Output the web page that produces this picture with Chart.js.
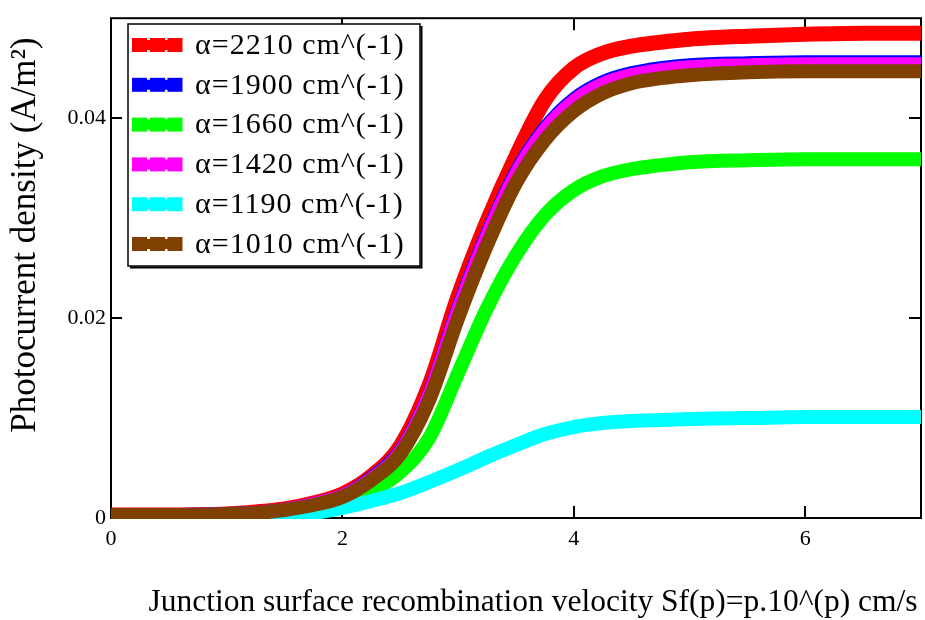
<!DOCTYPE html>
<html>
<head>
<meta charset="utf-8">
<script src="https://cdn.jsdelivr.net/npm/chart.js@4.4.0/dist/chart.umd.min.js"></script>
<style>
  html, body { margin: 0; padding: 0; background: #fff; }
  #wrap { width: 925px; height: 620px; position: relative; }
</style>
</head>
<body>
<div id="wrap"><canvas id="chart"></canvas></div>
<script>
// p values (x axis)
const pValues = [0, 0.5, 1, 1.25, 1.5, 1.75, 2, 2.25, 2.5, 2.75, 3, 3.25, 3.5, 3.75, 4, 4.25, 4.5, 4.75, 5, 5.5, 6, 6.5, 7];

// photocurrent density (A/m²) per absorption coefficient
const j2210 = [0.0003, 0.0003, 0.0004, 0.0006, 0.0009, 0.0015, 0.0024, 0.0042, 0.0072, 0.0133, 0.0222, 0.0297, 0.0362, 0.0418, 0.0450, 0.0465, 0.0472, 0.0476, 0.0479, 0.0482, 0.0484, 0.0485, 0.0485];
const j1900 = [0.0003, 0.0003, 0.0004, 0.0005, 0.0008, 0.0014, 0.0022, 0.0040, 0.0067, 0.0124, 0.0210, 0.0284, 0.0346, 0.0390, 0.0419, 0.0436, 0.0445, 0.0450, 0.0453, 0.0455, 0.0456, 0.0456, 0.0456];
const j1660 = [0.0002, 0.0002, 0.0003, 0.0004, 0.0006, 0.0010, 0.0016, 0.0027, 0.0046, 0.0080, 0.0145, 0.0210, 0.0263, 0.0303, 0.0328, 0.0342, 0.0349, 0.0353, 0.0356, 0.0358, 0.0359, 0.0359, 0.0359];
const j1420 = [0.0003, 0.0003, 0.0004, 0.0005, 0.0008, 0.0014, 0.0022, 0.0039, 0.0066, 0.0123, 0.0208, 0.0282, 0.0344, 0.0388, 0.0417, 0.0434, 0.0443, 0.0448, 0.0451, 0.0453, 0.0454, 0.0454, 0.0454];
const j1190 = [0.0001, 0.0001, 0.0001, 0.0002, 0.0003, 0.0005, 0.0010, 0.0017, 0.0025, 0.0036, 0.0048, 0.0061, 0.0073, 0.0084, 0.0091, 0.0095, 0.0097, 0.0098, 0.0099, 0.0100, 0.0101, 0.0101, 0.0101];
const j1010 = [0.0003, 0.0003, 0.0004, 0.0005, 0.0008, 0.0013, 0.0021, 0.0038, 0.0064, 0.0118, 0.0200, 0.0273, 0.0335, 0.0378, 0.0407, 0.0425, 0.0435, 0.0440, 0.0443, 0.0446, 0.0447, 0.0447, 0.0447];

const seriesLabels = ['α=2210 cm^(-1)', 'α=1900 cm^(-1)', 'α=1660 cm^(-1)', 'α=1420 cm^(-1)', 'α=1190 cm^(-1)', 'α=1010 cm^(-1)'];
const seriesData = [j2210, j1900, j1660, j1420, j1190, j1010];
const seriesColors = ['#ff0000', '#0000ff', '#00ff00', '#ff00ff', '#00ffff', '#804000'];

const xTickValues = [0, 2, 4, 6];
const xTickLabels = ['0', '2', '4', '6'];
const yTickValues = [0, 0.02, 0.04];
const yTickLabels = ['0', '0.02', '0.04'];

const xTitle = 'Junction surface recombination velocity Sf(p)=p.10^(p) cm/s';
const yTitle = 'Photocurrent density (A/m²)';

const SERIF = "'Liberation Serif', 'Times New Roman', serif";

// ── frame with inward ticks (Mathcad style) ───────────────
const framePlugin = {
  id: 'frame',
  beforeDatasetsDraw(chart) {
    const { ctx, chartArea: a, scales } = chart;
    ctx.save();
    ctx.strokeStyle = '#000';
    ctx.lineWidth = 2;
    ctx.strokeRect(a.left, a.top, a.right - a.left, a.bottom - a.top);
    ctx.beginPath();
    xTickValues.forEach(v => {
      if (v === 0) return;
      const x = Math.round(scales.x.getPixelForValue(v));
      ctx.moveTo(x, a.bottom); ctx.lineTo(x, a.bottom - 12);
      ctx.moveTo(x, a.top); ctx.lineTo(x, a.top + 12);
    });
    yTickValues.forEach(v => {
      if (v === 0) return;
      const y = Math.round(scales.y.getPixelForValue(v));
      ctx.moveTo(a.left, y); ctx.lineTo(a.left + 11, y);
      ctx.moveTo(a.right, y); ctx.lineTo(a.right - 12, y);
    });
    ctx.stroke();
    ctx.restore();
  },
  afterDraw(chart) {
    const { ctx } = chart;
    ctx.save();
    ctx.fillStyle = '#000';
    ctx.font = '31.5px ' + SERIF;
    ctx.textAlign = 'center';
    ctx.textBaseline = 'alphabetic';
    ctx.fillText(xTitle, 533, 611);

    ctx.translate(35, 235);
    ctx.rotate(-Math.PI / 2);
    ctx.font = '35px ' + SERIF;
    ctx.fillText(yTitle, 0, 0);
    ctx.restore();
  }
};

// ── legend box inside the plot ────────────────────────────
const legendPlugin = {
  id: 'boxLegend',
  afterDraw(chart) {
    const { ctx } = chart;
    const left = 128, top = 24, right = 420, bottom = 266;
    ctx.save();
    ctx.fillStyle = '#fff';
    ctx.fillRect(left, top, right - left, bottom - top);
    ctx.strokeStyle = '#000';
    ctx.lineWidth = 1.5;
    ctx.strokeRect(left, top, right - left, bottom - top);
    // small shadow on right and bottom
    ctx.lineWidth = 2;
    ctx.beginPath();
    ctx.moveTo(right + 1.5, top + 2); ctx.lineTo(right + 1.5, bottom + 1.5);
    ctx.lineTo(left + 2, bottom + 1.5);
    ctx.stroke();

    seriesLabels.forEach((label, i) => {
      const cy = 45 + i * 39.8;
      ctx.strokeStyle = seriesColors[i];
      ctx.fillStyle = seriesColors[i];
      ctx.lineWidth = 10;
      ctx.beginPath();
      ctx.moveTo(132, cy); ctx.lineTo(182, cy);
      ctx.stroke();
      [139.5, 157.5, 175].forEach(mx => ctx.fillRect(mx - 7.5, cy - 7, 15, 14));
      ctx.fillStyle = '#000';
      ctx.font = '30px ' + SERIF;
      ctx.letterSpacing = '1px';
      ctx.textAlign = 'left';
      ctx.textBaseline = 'middle';
      ctx.fillText(label, 195, cy + 1);
      ctx.letterSpacing = '0px';
    });
    ctx.restore();
  }
};

const datasets = seriesData.map((vals, i) => ({
  label: seriesLabels[i],
  data: vals.map((v, k) => ({ x: pValues[k], y: v })),
  borderColor: seriesColors[i],
  backgroundColor: seriesColors[i],
  borderWidth: i === 0 ? 15 : 14,
  pointRadius: 0,
  cubicInterpolationMode: 'monotone',
  fill: false,
  clip: 1,
  order: seriesData.length - 1 - i
}));

new Chart(document.getElementById('chart'), {
  type: 'line',
  data: { datasets },
  options: {
    responsive: true,
    maintainAspectRatio: false,
    animation: false,
    events: [],
    layout: { padding: { left: 0, right: 4, top: 6, bottom: 0 } },
    plugins: {
      legend: { display: false },
      tooltip: { enabled: false }
    },
    scales: {
      x: {
        type: 'linear',
        min: 0,
        max: 7,
        afterBuildTicks: s => { s.ticks = xTickValues.map(v => ({ value: v })); },
        afterFit: s => { s.height = 102; },
        grid: { display: false, drawTicks: false },
        border: { display: false },
        ticks: {
          padding: 8,
          color: '#000',
          font: { family: SERIF, size: 22 },
          maxRotation: 0,
          callback: (v, i) => xTickLabels[i]
        }
      },
      y: {
        type: 'linear',
        min: 0,
        max: 0.05,
        afterBuildTicks: s => { s.ticks = yTickValues.map(v => ({ value: v })); },
        afterFit: s => { s.width = 111; },
        grid: { display: false, drawTicks: false },
        border: { display: false },
        ticks: {
          padding: 5,
          color: '#000',
          font: { family: SERIF, size: 22 },
          callback: (v, i) => yTickLabels[i]
        }
      }
    }
  },
  plugins: [framePlugin, legendPlugin]
});
</script>
</body>
</html>
